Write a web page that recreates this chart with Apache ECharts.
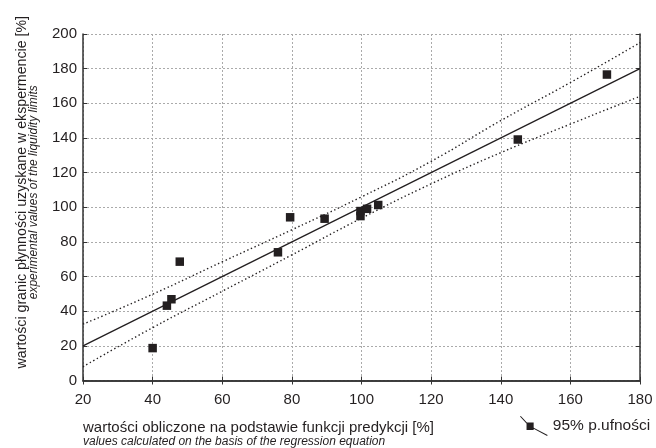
<!DOCTYPE html>
<html>
<head>
<meta charset="utf-8">
<script src="https://cdn.jsdelivr.net/npm/echarts@6/dist/echarts.min.js"></script>
<style>
    html, body { margin: 0; padding: 0; background: #fff; }
    #chart { width: 656px; height: 448px; }
</style>
</head>
<body>
<div id="chart"></div>
<script>
    // points: predicted (x) vs measured (y)
    var predicted = [40, 44.1, 45.4, 47.8, 76, 79.5, 89.4, 99.7, 99.7, 101.6, 104.8, 144.9, 170.5];
    var measured = [18.7, 43.2, 46.9, 68.6, 74, 94.2, 93.4, 97.8, 94.9, 99.1, 101.3, 139.1, 176.6];

    // regression line
    var fitX = [20, 180];
    var fitY = [20, 180];

    // 95% confidence band
    var bandX = [20, 40, 60, 80, 100, 120, 140, 160, 180];
    var bandUpper = [32.5, 49.8, 68.5, 87, 106, 126.5, 150, 172, 195];
    var bandLower = [8, 30.5, 51.5, 72.5, 93.7, 113.5, 131.5, 148, 164];

    var ink = '#231f20';

    function pairs(xs, ys) {
        var out = [];
        for (var i = 0; i < xs.length; i++) {
            out.push([xs[i], ys[i]]);
        }
        return out;
    }

    var legendIcon = 'path://M0,0.5 L0.8,0 L9.5,9.3 L8.7,10 Z' +
        ' M6.7,6.6 L14,6.6 L14,14.3 L6.7,14.3 Z' +
        ' M14,12 L28.3,19.6 L27.8,20.5 L13.5,12.9 Z';

    var axisLine = { show: true, lineStyle: { color: '#333', width: 1.5 } };
    var innerTick = { show: true, inside: true, length: 4, lineStyle: { color: '#333' } };
    var grid = { show: true, lineStyle: { color: '#aaa', type: [2, 2], width: 1 } };

    var myChart = echarts.init(document.getElementById('chart'));
    var option = {
        animation: false,
        textStyle: { fontFamily: '"Liberation Sans", Arial, sans-serif', color: ink },
        grid: { left: 83, right: 16, top: 34, bottom: 67 },
        legend: {
            left: 520,
            top: 416,
            padding: 0,
            itemWidth: 28,
            itemHeight: 20,
            itemGap: 4,
            data: [{ name: '95% p.ufności', icon: legendIcon }],
            itemStyle: { color: ink, borderWidth: 0 },
            textStyle: { fontSize: 15.5, color: ink, fontFamily: '"Liberation Sans", Arial, sans-serif', padding: [2, 0, 0, 0] }
        },
        xAxis: [{
            type: 'value',
            min: 20,
            max: 180,
            interval: 20,
            position: 'bottom',
            axisLine: axisLine,
            axisTick: innerTick,
            splitLine: grid,
            axisLabel: { fontSize: 15, color: ink, margin: 12 },
            name: '{a|wartości obliczone na podstawie funkcji predykcji [%]}\n{b|values calculated on the basis of the regression equation}',
            nameLocation: 'start',
            nameGap: 0,
            nameTextStyle: {
                align: 'left',
                verticalAlign: 'top',
                padding: [39, 0, 0, 0],
                rich: {
                    a: { fontSize: 15, lineHeight: 16, color: ink },
                    b: { fontSize: 12, lineHeight: 13, fontStyle: 'italic', color: ink }
                }
            }
        }, {
            type: 'value',
            min: 20,
            max: 180,
            interval: 20,
            position: 'top',
            axisLine: axisLine,
            axisTick: innerTick,
            splitLine: { show: false },
            axisLabel: { show: false }
        }],
        yAxis: [{
            type: 'value',
            min: 0,
            max: 200,
            interval: 20,
            position: 'left',
            axisLine: axisLine,
            axisTick: innerTick,
            splitLine: grid,
            axisLabel: { fontSize: 15, color: ink, margin: 6 },
            name: '{a|wartości granic płynności uzyskane w ekspermencie [%]}\n{b|experimental values of the liquidity limits}',
            nameLocation: 'middle',
            nameGap: 43,
            nameTextStyle: {
                align: 'center',
                padding: [0, 0, 0, 30],
                rich: {
                    a: { fontSize: 14.2, lineHeight: 11, color: ink },
                    b: { fontSize: 12, lineHeight: 12, fontStyle: 'italic', color: ink }
                }
            }
        }, {
            type: 'value',
            min: 0,
            max: 200,
            interval: 20,
            position: 'right',
            axisLine: axisLine,
            axisTick: innerTick,
            splitLine: { show: false },
            axisLabel: { show: false }
        }],
        series: [{
            name: 'fit',
            type: 'line',
            data: pairs(fitX, fitY),
            symbol: 'none',
            lineStyle: { color: ink, width: 1.3 },
            z: 3
        }, {
            name: '95% p.ufności',
            type: 'line',
            data: pairs(bandX, bandUpper),
            symbol: 'none',
            smooth: true,
            itemStyle: { color: ink },
            lineStyle: { color: ink, width: 1.4, type: [1.4, 2.6] },
            z: 3
        }, {
            name: 'lower',
            type: 'line',
            data: pairs(bandX, bandLower),
            symbol: 'none',
            smooth: true,
            lineStyle: { color: ink, width: 1.4, type: [1.4, 2.6] },
            z: 3
        }, {
            name: 'points',
            type: 'scatter',
            data: pairs(predicted, measured),
            symbol: 'rect',
            symbolSize: 8.5,
            itemStyle: { color: ink, opacity: 1 },
            z: 4
        }]
    };
    myChart.setOption(option);
</script>
</body>
</html>
